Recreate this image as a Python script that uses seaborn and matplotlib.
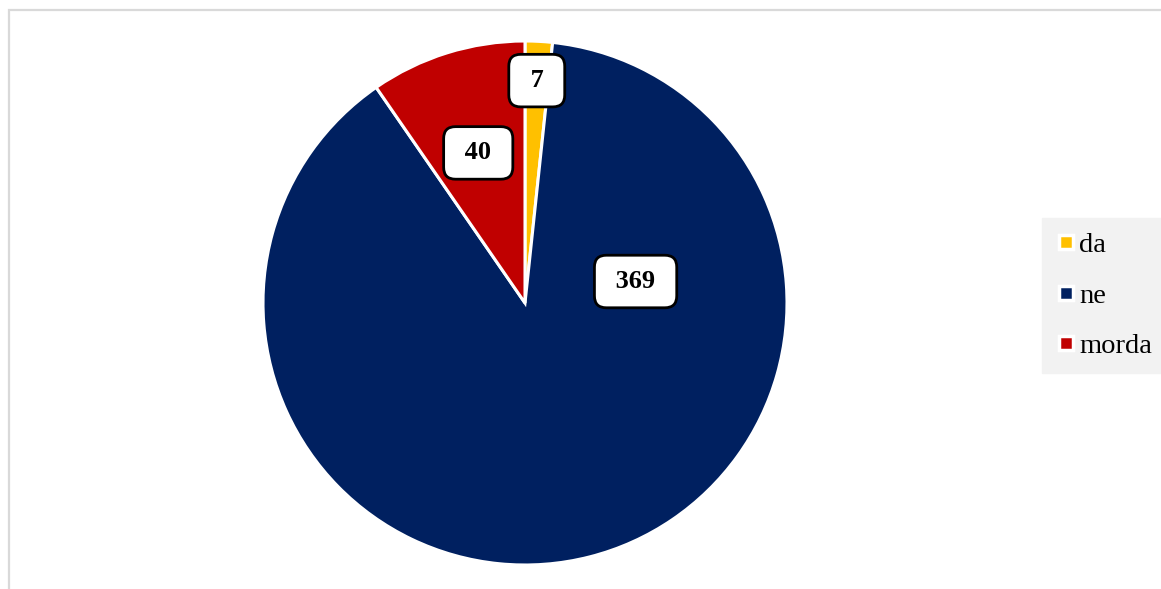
import numpy as np
import matplotlib
matplotlib.use("Agg")
import matplotlib.pyplot as plt
import seaborn as sns
from matplotlib.lines import Line2D
from matplotlib.patches import Rectangle

## data
categories = ["da", "ne", "morda"]
values = [7, 369, 40]
colors = ["#FFC000", "#002060", "#C00000"]

## label placement (fraction of radius, optional angle override in degrees)
label_r = [0.85, 0.43, 0.60]
label_angle = [None, 11.0, None]

sns.set_theme(style="white")
plt.rcParams["font.family"] = ["Liberation Serif", "DejaVu Serif"]

W, H = 1161, 589
fig = plt.figure(figsize=(W / 100, H / 100), dpi=100)

# light gray frame (top and left visible)
fig.add_artist(Rectangle((8.5 / W, -0.05), 1.2, (H - 9.5) / H + 0.05,
                         transform=fig.transFigure, fill=False,
                         edgecolor="#d9d9d9", linewidth=1.6))

cx, cy, r = 525, 303, 262
ax = fig.add_axes([(cx - r) / W, (H - cy - r) / H, 2 * r / W, 2 * r / H])

pal = sns.color_palette(colors)
wedges, _ = ax.pie(values, colors=pal, startangle=90, counterclock=False,
                   radius=1, wedgeprops=dict(edgecolor="white", linewidth=2.2))
ax.set_xlim(-1, 1)
ax.set_ylim(-1, 1)
ax.set_aspect("equal")
ax.axis("off")

for w, v, lr, la in zip(wedges, values, label_r, label_angle):
    ang = la if la is not None else (w.theta1 + w.theta2) / 2
    x = lr * np.cos(np.deg2rad(ang))
    y = lr * np.sin(np.deg2rad(ang))
    ax.text(x, y, " " + str(v) + " ", ha="center", va="center",
            fontsize=19, fontweight="bold", color="black",
            bbox=dict(boxstyle="round,pad=0.56,rounding_size=0.45",
                      facecolor="white", edgecolor="black", linewidth=2))

handles = [Line2D([], [], marker="s", linestyle="None", markersize=9.5,
                  markerfacecolor=c, markeredgecolor="white",
                  markeredgewidth=2.5) for c in colors]
leg = fig.legend(handles, categories, loc="upper left",
                 bbox_to_anchor=(1042 / W, 1 - 218 / H),
                 frameon=True, fancybox=False, facecolor="#f2f2f2",
                 edgecolor="#f2f2f2", framealpha=1, fontsize=20.5,
                 handlelength=0.7, handletextpad=0.1, labelspacing=0.86,
                 borderpad=0.5, borderaxespad=0, labelcolor="black")

fig.savefig("out.png", dpi=100)
